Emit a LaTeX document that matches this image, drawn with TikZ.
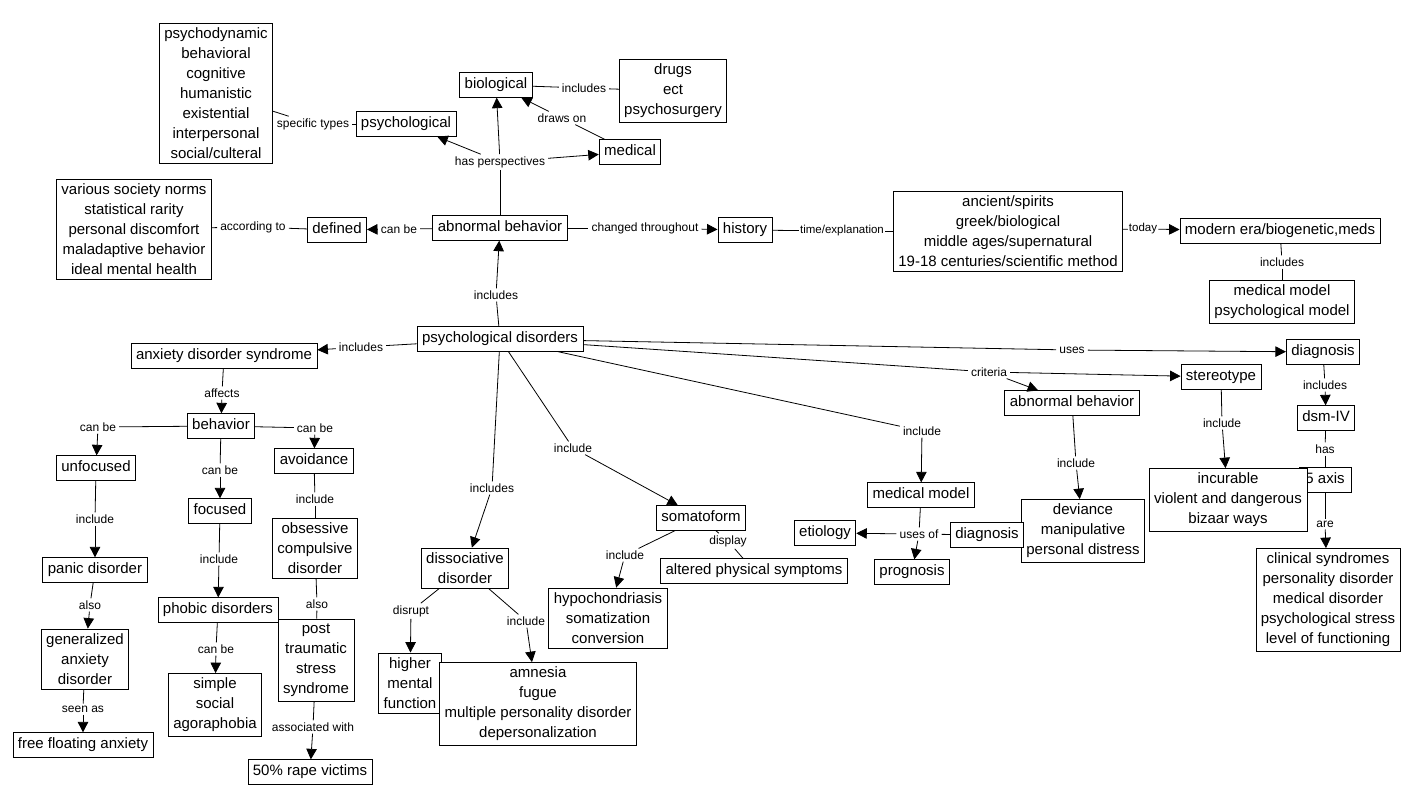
\documentclass[tikz,border=0pt]{standalone}
\usepackage{fontspec}
\setmainfont{Liberation Sans}
\usetikzlibrary{arrows.meta}
\begin{document}
\begin{tikzpicture}[x=1pt,y=-1pt,
 cbox/.style={draw,fill=white,line width=0.8pt,font=\fontsize{15}{20}\selectfont,inner xsep=5pt,inner ysep=5pt,text height=11pt,text depth=3.5pt},
 mcbox/.style={draw,fill=white,line width=0.8pt,font=\fontsize{15}{20}\selectfont,align=center,inner xsep=5pt,inner ysep=4.5pt},
 lab/.style={font=\fontsize{12}{14}\selectfont,inner xsep=3pt,inner ysep=2pt},
 slab/.style={font=\fontsize{11.5}{13}\selectfont,inner xsep=1pt,inner ysep=2pt},
 ln/.style={line width=0.8pt},
 arr/.style={line width=0.8pt,-{Triangle[length=10.5pt,width=10.5pt]}}]
\fill[white] (0,0) rectangle (1412,804);
\useasboundingbox (0,0) rectangle (1412,804);

% ---------- top area
\node[mcbox] (types) at (216,93) {psychodynamic\\behavioral\\cognitive\\humanistic\\existential\\interpersonal\\social/culteral};
\node[cbox] (psyc) at (406,124) {psychological};
\node[lab] (spec) at (313,124) {specific types};
\node[cbox] (bio) at (496,85) {biological};
\node[lab] (incl1) at (584,88) {includes};
\node[mcbox] (drugs) at (673,91) {drugs\\ect\\psychosurgery};
\node[lab] (drawson) at (562,118) {draws on};
\node[cbox] (med) at (630,152) {medical};
\node[lab] (hasp) at (500,162) {has perspectives};
\node[mcbox] (norms) at (134,229) {various society norms\\statistical rarity\\personal discomfort\\maladaptive behavior\\ideal mental health};
\node[lab] (accto) at (253,227) {according to};
\node[cbox] (defined) at (337,230) {defined};
\node[lab] (canbe1) at (399,229) {can be};
\node[cbox] (ab) at (500,228) {abnormal behavior};
\node[lab] (chg) at (645,228) {changed throughout};
\node[cbox] (hist) at (745,230) {history};
\node[slab] (timeexp) at (842,231) {time/explanation};
\node[mcbox] (eras) at (1008,231) {ancient/spirits\\greek/biological\\middle ages/supernatural\\19-18 centuries/scientific method};
\node[slab] (today) at (1143,229) {today};
\node[cbox] (modern) at (1280,231) {modern era/biogenetic,meds};
\node[lab] (incl2) at (1282,262) {includes};
\node[mcbox] (models) at (1282,302) {medical model\\psychological model};

% ---------- centre / anxiety branch
\node[lab] (incl3) at (496,295) {includes};
\node[cbox] (pd) at (500,339) {psychological disorders};
\node[lab] (incl4) at (361,347) {includes};
\node[cbox] (anx) at (224,356) {anxiety disorder syndrome};
\node[lab] (affects) at (222,393) {affects};
\node[cbox] (beh) at (221,426) {behavior};
\node[lab] (cb2) at (98,427) {can be};
\node[lab] (cb3) at (315,428) {can be};
\node[lab] (cb4) at (220,470) {can be};
\node[cbox] (unf) at (96,468) {unfocused};
\node[cbox] (avoid) at (314,461) {avoidance};
\node[cbox] (focused) at (220,511) {focused};
\node[lab] (inc5) at (95,519) {include};
\node[lab] (inc6) at (315,499) {include};
\node[lab] (inc7) at (219,559) {include};
\node[cbox] (panic) at (95,570) {panic disorder};
\node[mcbox] (ocd) at (315,548) {obsessive\\compulsive\\disorder};
\node[lab] (also1) at (90,605) {also};
\node[cbox] (phobic) at (218,610) {phobic disorders};
\node[lab] (also2) at (317,604) {also};
\node[mcbox] (gad) at (85,659) {generalized\\anxiety\\disorder};
\node[lab] (seenas) at (83,709) {seen as};
\node[cbox] (ffa) at (83,745) {free floating anxiety};
\node[lab] (cb5) at (216,649) {can be};
\node[mcbox] (ssa) at (215,705) {simple\\social\\agoraphobia};
\node[mcbox] (ptsd) at (316,660) {post\\traumatic\\stress\\syndrome};
\node[lab] (assoc) at (313,727) {associated with};
\node[cbox] (rape) at (310,772) {50\% rape victims};

% ---------- somatoform / dissociative
\node[lab] (inc8) at (573,448) {include};
\node[lab] (inc9) at (492,488) {includes};
\node[cbox] (soma) at (701,518) {somatoform};
\node[mcbox] (diss) at (465,568) {dissociative\\disorder};
\node[lab] (inc10) at (625,555) {include};
\node[lab] (display) at (728,541) {display};
\node[cbox] (alt) at (754,571) {altered physical symptoms};
\node[mcbox] (hypo) at (608,618) {hypochondriasis\\somatization\\conversion};
\node[lab] (disrupt) at (411,611) {disrupt};
\node[lab] (inc11) at (526,621) {include};
\node[mcbox] (hmf) at (410,683) {higher\\mental\\function};
\node[mcbox] (amn) at (538,704) {amnesia\\fugue\\multiple personality disorder\\depersonalization};

% ---------- right side
\node[lab] (inc12) at (922,431) {include};
\node[cbox] (mm) at (921,495) {medical model};
\node[lab] (usesof) at (919,534) {uses of};
\node[cbox] (etio) at (825,533) {etiology};
\node[cbox] (prog) at (912,572) {prognosis};
\node[lab] (crit) at (989,372) {criteria};
\node[cbox] (ab2) at (1072,403) {abnormal behavior};
\node[lab] (inc13) at (1076,463) {include};
\node[mcbox] (dev) at (1083,531) {deviance\\manipulative\\personal distress};
\node[cbox] (diag2) at (987,535) {diagnosis};
\node[lab] (uses) at (1072,350) {uses};
\node[cbox] (diag) at (1323,352) {diagnosis};
\node[cbox] (stereo) at (1221,377) {stereotype};
\node[lab] (inc14) at (1222,423) {include};
\node[lab] (inc15) at (1325,385) {includes};
\node[cbox] (dsm) at (1326,418) {dsm-IV};
\node[lab] (has) at (1325,449) {has};
\node[cbox,minimum width=52pt] (five) at (1325,480) {5 axis};
\node[mcbox,minimum width=158pt] (incur) at (1228,500) {incurable\\violent and dangerous\\bizaar ways};
\node[lab] (are) at (1325,524) {are};
\node[mcbox] (clin) at (1328,600) {clinical syndromes\\personality disorder\\medical disorder\\psychological stress\\level of functioning};

% ---------- connectors: top
\draw[ln] (psyc) -- (spec);
\draw[ln] (spec) -- (types);
\draw[ln] (bio) -- (incl1);
\draw[ln] (incl1) -- (drugs);
\draw[ln] (med) -- (drawson);
\draw[arr] (drawson) -- (bio);
\draw[ln] (ab) -- (hasp);
\draw[arr] (hasp) -- (psyc);
\draw[arr] (hasp) -- (bio);
\draw[arr] (hasp) -- (med);
\draw[ln] (ab) -- (canbe1);
\draw[arr] (canbe1) -- (defined);
\draw[ln] (defined) -- (accto);
\draw[ln] (accto) -- (norms);
\draw[ln] (ab) -- (chg);
\draw[arr] (chg) -- (hist);
\draw[ln] (hist) -- (timeexp);
\draw[ln] (timeexp) -- (eras);
\draw[ln] (eras) -- (today);
\draw[arr] (today) -- (modern);
\draw[ln] (modern) -- (incl2);
\draw[ln] (incl2) -- (models);

% ---------- connectors: centre
\draw[ln] (pd) -- (incl3);
\draw[arr] (incl3) -- (ab);
\draw[ln] (pd) -- (incl4);
\draw[arr] (incl4) -- (anx);
\draw[ln] (anx) -- (affects);
\draw[arr] (affects) -- (beh);
\draw[ln] (beh) -- (cb2);
\draw[arr] (cb2) -- (unf);
\draw[ln] (beh) -- (cb3);
\draw[arr] (cb3) -- (avoid);
\draw[ln] (beh) -- (cb4);
\draw[arr] (cb4) -- (focused);
\draw[ln] (unf) -- (inc5);
\draw[arr] (inc5) -- (panic);
\draw[ln] (avoid) -- (inc6);
\draw[ln] (inc6) -- (ocd);
\draw[ln] (focused) -- (inc7);
\draw[arr] (inc7) -- (phobic);
\draw[ln] (panic) -- (also1);
\draw[arr] (also1) -- (gad);
\draw[ln] (ocd) -- (also2);
\draw[ln] (also2) -- (ptsd);
\draw[ln] (gad) -- (seenas);
\draw[arr] (seenas) -- (ffa);
\draw[ln] (phobic) -- (cb5);
\draw[arr] (cb5) -- (ssa);
\draw[ln] (ptsd) -- (assoc);
\draw[arr] (assoc) -- (rape);

% ---------- connectors: somatoform / dissociative
\draw[ln] (pd) -- (inc8);
\draw[arr] (inc8) -- (soma);
\draw[ln] (pd) -- (inc9);
\draw[arr] (inc9) -- (diss);
\draw[ln] (soma) -- (inc10);
\draw[arr] (inc10) -- (hypo);
\draw[ln] (soma) -- (display);
\draw[ln] (display) -- (alt);
\draw[ln] (diss) -- (disrupt);
\draw[arr] (disrupt) -- (hmf);
\draw[ln] (diss) -- (inc11);
\draw[arr] (inc11) -- (amn);

% ---------- connectors: right
\draw[ln] (pd) -- (inc12);
\draw[arr] (inc12) -- (mm);
\draw[ln] (mm) -- (usesof);
\draw[arr] (usesof) -- (etio);
\draw[arr] (usesof) -- (prog);
\draw[ln] (usesof) -- (diag2);
\draw[ln] (pd) -- (crit);
\draw[arr] (crit) -- (stereo);
\draw[arr] (crit) -- (ab2);
\draw[ln] (ab2) -- (inc13);
\draw[arr] (inc13) -- (dev);
\draw[ln] (pd) -- (uses);
\draw[arr] (uses) -- (diag);
\draw[ln] (stereo) -- (inc14);
\draw[arr] (inc14) -- (incur);
\draw[ln] (diag) -- (inc15);
\draw[arr] (inc15) -- (dsm);
\draw[ln] (dsm) -- (has);
\draw[ln] (has) -- (five);
\draw[ln] (five) -- (are);
\draw[arr] (are) -- (clin);
\end{tikzpicture}
\end{document}
